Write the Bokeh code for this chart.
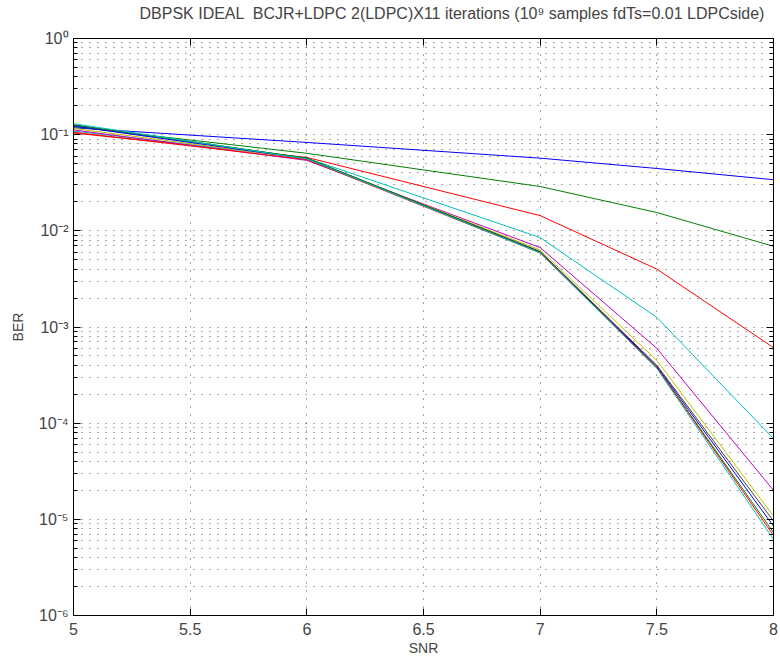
from bokeh.plotting import figure
from bokeh.models import Range1d, LogAxis, LinearAxis, FixedTicker, CustomJSTickFormatter
from bokeh.embed import file_html
from bokeh.resources import INLINE

# ---- data ----
snr = [5.0, 6.0, 7.0, 7.5, 8.0]
ber_it1 = [0.118, 0.083, 0.057, 0.0445, 0.034]
ber_it2 = [0.121, 0.064, 0.0289, 0.0155, 0.0069]
ber_it3 = [0.104, 0.058, 0.0144, 0.0040, 0.00061]
ber_it4 = [0.109, 0.057, 0.0085, 0.00126, 6.9e-5]
ber_it5 = [0.112, 0.054, 0.0067, 0.00060, 2.0e-5]
ber_it6 = [0.116, 0.056, 0.0063, 0.00045, 1.08e-5]
ber_it7 = [0.125, 0.057, 0.0061, 0.00040, 9.6e-6]
ber_it8 = [0.123, 0.056, 0.0060, 0.00039, 8.5e-6]
ber_it9 = [0.127, 0.057, 0.0060, 0.00038, 7.3e-6]
ber_it10 = [0.106, 0.055, 0.0059, 0.00038, 6.8e-6]
ber_it11 = [0.130, 0.056, 0.0059, 0.00037, 6.2e-6]
series = [ber_it1, ber_it2, ber_it3, ber_it4, ber_it5, ber_it6,
          ber_it7, ber_it8, ber_it9, ber_it10, ber_it11]
colors = ["#0000FF", "#008000", "#FF0000", "#00BFBF", "#BF00BF", "#BFBF00",
          "#404040", "#0000FF", "#008000", "#FF0000", "#00BFBF"]

x_ticks = [5, 5.5, 6, 6.5, 7, 7.5, 8]
x_tick_labels = ["5", "5.5", "6", "6.5", "7", "7.5", "8"]
y_exps = [0, -1, -2, -3, -4, -5, -6]
y_ticks = [10.0 ** e for e in y_exps]
y_tick_labels = ["10\u2070", "10\u207b\u00b9", "10\u207b\u00b2", "10\u207b\u00b3",
                 "10\u207b\u2074", "10\u207b\u2075", "10\u207b\u2076"]
y_minor = [m * 10.0 ** e for e in range(-6, 0) for m in range(2, 10)]

title_text = "DBPSK IDEAL \u00a0BCJR+LDPC 2(LDPC)X11 iterations (10\u2079 samples fdTs=0.01 LDPCside)"

FONT = "Liberation Sans"
GRID = "#555555"

p = figure(width=780, height=660, x_range=Range1d(5, 8), y_range=Range1d(1e-6, 1),
           y_axis_type="log", output_backend="svg", toolbar_location=None,
           min_border_left=73, min_border_right=7, min_border_top=38, min_border_bottom=45)
p.background_fill_color = "white"
p.border_fill_color = "white"
p.outline_line_color = "black"
p.outline_line_width = 1

p.title.text = title_text
p.title.align = "left"
p.title.offset = 66
p.title.text_font = FONT
p.title.text_font_size = "16px"
p.title.text_font_style = "normal"
p.title.standoff = 5

# grids
p.xgrid.ticker = FixedTicker(ticks=x_ticks)
p.ygrid.ticker = FixedTicker(ticks=y_ticks, minor_ticks=y_minor)
for g in (p.xgrid, p.ygrid):
    g.grid_line_color = GRID
    g.grid_line_dash = "1 7"
    g.grid_line_width = 1
p.ygrid.minor_grid_line_color = GRID
p.ygrid.minor_grid_line_dash = "1 7"
p.ygrid.minor_grid_line_width = 1

blank = CustomJSTickFormatter(code="return ''")

# bottom axis
xa = p.xaxis[0]
xa.ticker = FixedTicker(ticks=x_ticks)
xa.major_label_overrides = dict(zip(x_ticks, x_tick_labels))
xa.axis_label = "SNR"
xa.major_tick_in = 7
xa.major_tick_out = 0
xa.minor_tick_in = 0
xa.minor_tick_out = 0
xa.major_label_standoff = 7
xa.axis_label_standoff = 2
xa.major_label_text_font = FONT
xa.major_label_text_font_size = "16px"
xa.axis_label_text_font = FONT
xa.axis_label_text_font_size = "14px"
xa.axis_label_text_font_style = "normal"
xa.axis_line_color = "black"

# left axis
ya = p.yaxis[0]
ya.ticker = FixedTicker(ticks=y_ticks, minor_ticks=y_minor)
ya.major_label_overrides = dict(zip(y_ticks, y_tick_labels))
ya.axis_label = "BER"
ya.major_tick_in = 7
ya.major_tick_out = 0
ya.minor_tick_in = 4
ya.minor_tick_out = 0
ya.major_label_text_font = FONT
ya.major_label_text_font_size = "16px"
ya.major_label_standoff = 5
ya.axis_label_standoff = 10
ya.axis_label_text_font = FONT
ya.axis_label_text_font_size = "14px"
ya.axis_label_text_font_style = "normal"
ya.axis_line_color = "black"

# right and top axes (ticks only)
ra = LogAxis(ticker=FixedTicker(ticks=y_ticks, minor_ticks=y_minor), formatter=blank,
             major_tick_in=7, major_tick_out=0, minor_tick_in=4, minor_tick_out=0,
             major_label_text_font_size="1px", major_label_text_color=None,
             major_label_standoff=0, axis_line_color="black")
p.add_layout(ra, "right")
ta = LinearAxis(ticker=FixedTicker(ticks=x_ticks), formatter=blank,
                major_tick_in=7, major_tick_out=0, minor_tick_in=0, minor_tick_out=0,
                major_label_text_font_size="1px", major_label_text_color=None,
                major_label_standoff=0, axis_line_color="black",
                axis_label=" ", axis_label_text_font_size="10px",
                axis_label_text_color=None, axis_label_standoff=0)
p.add_layout(ta, "above")

# data lines
for ys, c in zip(series, colors):
    p.line(snr, ys, line_color=c, line_width=1)

open("out.html", "w").write(file_html(p, INLINE))
